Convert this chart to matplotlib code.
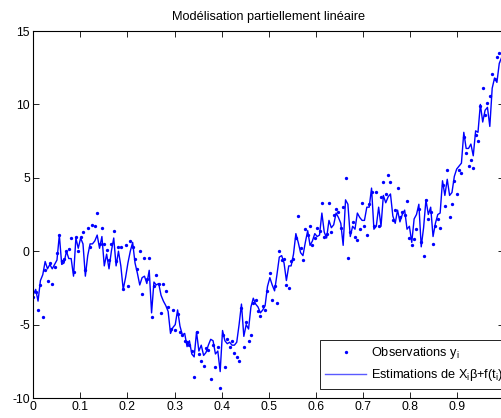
import numpy as np
import matplotlib
matplotlib.use('Agg')
import matplotlib.pyplot as plt

# Fonts close to the MATLAB Helvetica look
plt.rcParams['font.family'] = ['Liberation Sans', 'DejaVu Sans']
plt.rcParams['mathtext.fontset'] = 'custom'
plt.rcParams['mathtext.rm'] = 'Liberation Sans'
plt.rcParams['mathtext.it'] = 'Liberation Sans:italic'
plt.rcParams['axes.unicode_minus'] = False

# Design points t_i (evenly spaced on [0, 1])
t = np.linspace(0, 1, 200)

# Observations y_i
observations = [
    -3.1, -2.8, -4.0, -2.3, -4.5, -1.25, -2.0, -0.8, -2.2, -1.1,
    -0.1, 1.1, -0.7, -0.5, 0.0, 0.15, 0.9, -1.4, 1.0, 0.0,
    1.0, 1.3, -1.3, 1.6, 0.3, 1.8, 1.7, 2.6, 0.5, 1.55,
    0.5, 0.1, -0.6, 0.5, 1.4, -0.7, 0.3, 0.3, -2.6, 0.45,
    -2.4, 0.7, 0.3, -0.5, -1.2, 0.0, -2.9, -0.45, -1.9, -0.45,
    -4.5, -2.4, -1.6, -2.2, -4.2, -2.2, -2.7, -3.8, -5.3, -4.0,
    -5.4, -4.3, -5.5, -5.7, -6.1, -6.2, -6.4, -6.8, -8.6, -5.5,
    -7.0, -7.5, -7.8, -6.6, -6.7, -8.7, -6.4, -7.9, -6.5, -9.3,
    -5.7, -7.9, -6.0, -6.5, -6.1, -6.9, -7.2, -7.5, -3.9, -6.5,
    -4.8, -6.1, -5.7, -3.5, -3.3, -4.1, -4.4, -3.7, -4.0, -2.7,
    -1.5, -3.3, -2.4, -3.5, 0.0, -0.6, -0.5, -2.3, -2.5, -0.7,
    -0.5, 0.9, 2.4, 0.2, -0.6, 1.5, 1.1, 1.7, 0.4, 0.9,
    1.6, 1.4, 3.3, 1.0, 1.2, 3.3, 1.3, 2.5, 2.9, 2.7,
    1.6, 3.0, 5.0, -0.45, 1.3, 2.0, 1.0, 0.75, 1.5, 3.3,
    1.7, 1.1, 3.2, 4.0, 1.7, 4.0, 1.7, 3.7, 4.7, 3.9,
    5.2, 4.7, 2.1, 2.8, 4.3, 2.3, 2.7, 2.5, 3.4, 0.9,
    0.4, 0.8, 1.5, 2.9, 0.6, -0.3, 3.5, 2.2, 2.7, 0.5,
    1.7, 2.2, 1.6, 4.5, 3.1, 5.5, 2.3, 3.2, 4.8, 3.9,
    5.5, 5.3, 7.8, 6.7, 5.8, 6.2, 5.7, 7.9, 7.5, 9.9,
    11.1, 9.3, 10.1, 10.6, 12.1, 11.7, 13.2, 13.5, 12.9, 13.3,
]

# Fitted values X_i beta + f(t_i)
estimations = [
    -2.95, -2.6, -3.4, -2.0, -1.6, -0.7, -1.2, -0.9, -1.2, -0.9,
    -0.6, 1.1, -0.9, -0.8, 0.0, -0.5, -0.5, -1.7, 0.9, 0.2,
    0.9, 0.5, -1.7, -0.3, 0.5, 0.5, 0.7, 1.1, 0.2, 1.0,
    -1.0, -0.2, -1.2, 0.0, 0.9, -1.0, 0.0, -1.0, -2.6, -1.8,
    -0.8, 0.0, 0.6, -0.8, -1.5, -2.3, -1.8, -1.7, -2.2, -1.3,
    -4.2, -2.1, -2.3, -2.2, -3.0, -3.4, -3.7, -4.1, -5.6, -5.2,
    -5.0, -4.0, -5.1, -5.7, -5.6, -6.5, -6.1, -7.0, -7.2, -5.5,
    -6.8, -6.4, -7.1, -6.9, -6.4, -6.0, -6.1, -7.0, -6.8, -8.2,
    -5.4, -6.1, -6.3, -6.2, -6.4, -6.4, -6.2, -5.0, -3.6, -5.8,
    -5.0, -5.3, -3.8, -3.2, -3.6, -3.8, -4.2, -4.0, -3.7, -2.4,
    -1.8, -2.3, -2.7, -1.6, -0.4, -0.3, -0.8, -2.0, -1.0, -1.0,
    -0.2, 1.2, 0.6, -0.1, -0.3, 0.6, 1.4, 0.4, 0.7, 1.2,
    1.0, 1.1, 2.6, 1.3, 0.9, 2.1, 1.6, 1.8, 2.6, 2.3,
    1.9, 0.4, 3.5, 3.2, 1.0, 1.7, 1.5, 2.6, 2.3, 2.1,
    2.1, 3.0, 3.0, 4.3, 1.5, 1.7, 3.0, 1.7, 3.8, 3.3,
    3.7, 3.9, 2.4, 1.9, 2.8, 2.0, 2.5, 2.8, 1.5, 1.7,
    0.6, 2.2, 2.5, 3.2, 0.3, 1.6, 3.5, 2.5, 3.0, 1.0,
    1.9, 2.5, 2.6, 4.8, 3.8, 4.9, 3.8, 4.0, 5.1, 5.6,
    5.8, 6.0, 8.1, 7.0, 7.0, 7.3, 6.5, 8.2, 8.1, 10.0,
    8.8, 9.6, 9.8, 8.5, 11.1, 11.8, 11.5, 12.8, 13.2, 13.0,
]

# The "1" tick lies outside the cropped picture, so it is left out
x_ticks = [0, 0.1, 0.2, 0.3, 0.4, 0.5, 0.6, 0.7, 0.8, 0.9]
x_tick_labels = ['0', '0.1', '0.2', '0.3', '0.4', '0.5', '0.6', '0.7', '0.8', '0.9']
y_ticks = [-10, -5, 0, 5, 10, 15]

fig = plt.figure(figsize=(5.01, 4.18), dpi=100)
# the right edge of the axes sits just outside the picture, as in the original
ax = fig.add_axes([0.0665, 0.0478, 0.9395, 0.878])

ax.plot(t, observations, 'o', color='blue', ms=2.4, mew=0,
        label='Observations y$_{\\mathrm{i}}$')
ax.plot(t, estimations, '-', color='blue', lw=1.0,
        label='Estimations de X$_{\\mathrm{i}}$\u03b2+f(t$_{\\mathrm{i}}$)')

ax.set_xlim(0, 1)
ax.set_ylim(-10, 15)
ax.set_xticks(x_ticks)
ax.set_xticklabels(x_tick_labels)
ax.set_yticks(y_ticks)
ax.tick_params(direction='in', top=True, right=True, length=4, width=0.6,
               labelsize=8.8, pad=2.5)
for spine in ax.spines.values():
    spine.set_linewidth(0.8)

ax.set_title('Modélisation partiellement linéaire', fontsize=9.2, pad=8)

leg = ax.legend(loc='upper left', bbox_to_anchor=(319.5 / 501, 1 - 339.5 / 418),
                bbox_transform=fig.transFigure, fancybox=False, edgecolor='black',
                framealpha=1, fontsize=9.2, numpoints=1, handlelength=3.2,
                handletextpad=0.4, borderpad=0.45, labelspacing=0.45, borderaxespad=0)
leg.get_frame().set_linewidth(0.6)
# legend sample line is drawn a little lighter in the original
leg.get_lines()[1].set_color('#5a5aff')

fig.savefig('out.png', dpi=100)
